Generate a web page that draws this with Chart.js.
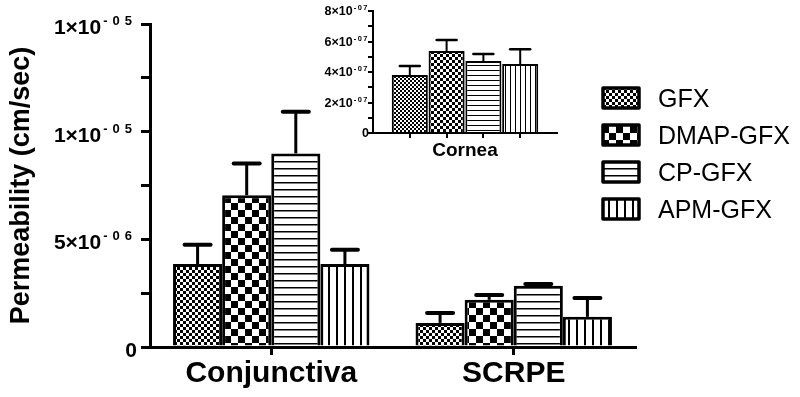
<!DOCTYPE html>
<html>
<head>
<meta charset="utf-8">
<script src="https://cdn.jsdelivr.net/npm/chart.js@4.4.1/dist/chart.umd.min.js"></script>
<style>
  html, body { margin: 0; padding: 0; background: #fff; }
  #wrap { position: relative; width: 800px; height: 397px; }
  #inset { position: absolute; left: 290px; top: 0; }
</style>
</head>
<body>
<div id="wrap">
  <canvas id="main" width="800" height="397"></canvas>
  <canvas id="inset" width="280" height="165"></canvas>
</div>
<script>
// data
const groups = ['Conjunctiva', 'SCRPE'];
const series = ['GFX', 'DMAP-GFX', 'CP-GFX', 'APM-GFX'];
const gfx = [3.85e-6, 1.12e-6];
const dmap = [7.05e-6, 2.19e-6];
const cp = [8.99e-6, 2.84e-6];
const apm = [3.85e-6, 1.40e-6];
const gfxErr = [0.90e-6, 0.46e-6];
const dmapErr = [1.47e-6, 0.23e-6];
const cpErr = [1.93e-6, 0.09e-6];
const apmErr = [0.67e-6, 0.88e-6];

// inset (cornea)
const corneaMeans = [3.8e-7, 5.38e-7, 4.72e-7, 4.52e-7];
const corneaErr = [0.60e-7, 0.72e-7, 0.46e-7, 0.98e-7];

// axis ticks / labels
const yTicks = [0, 2.5e-6, 5e-6, 7.5e-6, 1e-5, 1.25e-5, 1.5e-5];
const yLabelValues = [0, 5e-6, 1e-5, 1.5e-5];
const yLabelBase = ['0', '5×10', '1×10', '1×10'];
const yLabelExp = ['', '-06', '-05', '-05'];
const insetTicks = [0, 1e-7, 2e-7, 3e-7, 4e-7, 5e-7, 6e-7, 7e-7, 8e-7];
const insetLabelValues = [0, 2e-7, 4e-7, 6e-7, 8e-7];
const insetLabelBase = ['0', '2×10', '4×10', '6×10', '8×10'];
const insetLabelExp = ['', '-07', '-07', '-07', '-07'];

const FONT = '"Liberation Sans", Arial, sans-serif';
Chart.defaults.color = '#000';
Chart.defaults.font.family = FONT;

function makePattern(kind, s, lw) {
  const c = document.createElement('canvas');
  const ctx = c.getContext('2d');
  if (kind === 'checker') {
    c.width = c.height = s * 2;
    ctx.fillStyle = '#fff'; ctx.fillRect(0, 0, s * 2, s * 2);
    ctx.fillStyle = '#000';
    ctx.fillRect(0, 0, s, s); ctx.fillRect(s, s, s, s);
  } else if (kind === 'hlines') {
    c.width = 4; c.height = s;
    ctx.fillStyle = '#fff'; ctx.fillRect(0, 0, 4, s);
    ctx.fillStyle = '#000'; ctx.fillRect(0, 0, 4, lw);
  } else {
    c.width = s; c.height = 4;
    ctx.fillStyle = '#fff'; ctx.fillRect(0, 0, s, 4);
    ctx.fillStyle = '#000'; ctx.fillRect(0, 0, lw, 4);
  }
  return ctx.createPattern(c, 'repeat');
}

const mainPatterns = [
  makePattern('checker', 3),
  makePattern('checker', 7),
  makePattern('hlines', 7, 1.5),
  makePattern('vlines', 8, 2)
];
const insetPatterns = [
  makePattern('checker', 2),
  makePattern('checker', 3),
  makePattern('hlines', 5, 1),
  makePattern('vlines', 5, 1)
];

// superscript style labels like 5x10^-06
function drawSci(ctx, right, y, base, exp, f) {
  ctx.save();
  ctx.fillStyle = '#000';
  ctx.textBaseline = 'alphabetic';
  ctx.font = f.expFont;
  const chars = exp.split('');
  let expW = chars.length ? f.lead : 0;
  chars.forEach(ch => { expW += ctx.measureText(ch).width + f.gap; });
  ctx.font = f.baseFont;
  ctx.textAlign = 'right';
  ctx.fillText(base, right - expW, y + f.baseDy);
  ctx.textAlign = 'left';
  ctx.font = f.expFont;
  let x = right - expW + f.lead;
  chars.forEach(ch => {
    ctx.fillText(ch, x, y + f.expDy);
    x += ctx.measureText(ch).width + f.gap;
  });
  ctx.restore();
}

const errorBars = {
  id: 'errorBars',
  afterDatasetsDraw(chart, args, opts) {
    const ctx = chart.ctx;
    const y = chart.scales.y;
    chart.data.datasets.forEach((ds, i) => {
      chart.getDatasetMeta(i).data.forEach((bar, j) => {
        const d = ds.data[j];
        const v = typeof d === 'object' ? d.y : d;
        const top = y.getPixelForValue(v + ds.errors[j]);
        ctx.save();
        ctx.strokeStyle = '#000';
        ctx.lineWidth = opts.width;
        ctx.beginPath();
        ctx.moveTo(bar.x, bar.y);
        ctx.lineTo(bar.x, top);
        ctx.stroke();
        ctx.lineWidth = opts.capWidth;
        ctx.lineCap = 'round';
        ctx.beginPath();
        ctx.moveTo(bar.x - opts.cap / 2, top);
        ctx.lineTo(bar.x + opts.cap / 2, top);
        ctx.stroke();
        ctx.restore();
      });
    });
  }
};

const sciLabels = {
  id: 'sciLabels',
  afterDraw(chart, args, opts) {
    const y = chart.scales.y;
    opts.values.forEach((v, i) => {
      drawSci(chart.ctx, opts.right, y.getPixelForValue(v), opts.base[i], opts.exp[i], opts);
    });
  }
};

const boxLegend = {
  id: 'boxLegend',
  afterDraw(chart) {
    const ctx = chart.ctx;
    chart.data.datasets.forEach((ds, i) => {
      const cy = 98 + i * 37;
      ctx.save();
      ctx.fillStyle = ds.backgroundColor;
      ctx.fillRect(602, cy - 11, 38, 22);
      ctx.strokeStyle = '#000';
      ctx.lineWidth = 3.5;
      ctx.lineJoin = 'round';
      ctx.strokeRect(603, cy - 10, 36, 20);
      ctx.fillStyle = '#000';
      ctx.font = '25px ' + FONT;
      ctx.textBaseline = 'alphabetic';
      ctx.fillText(ds.label, 658, cy + 9);
      ctx.restore();
    });
  }
};

const mainValues = [gfx, dmap, cp, apm];
const mainErrors = [gfxErr, dmapErr, cpErr, apmErr];

new Chart(document.getElementById('main'), {
  type: 'bar',
  data: {
    labels: groups,
    datasets: series.map((name, i) => ({
      label: name,
      data: mainValues[i],
      errors: mainErrors[i],
      backgroundColor: mainPatterns[i],
      borderColor: '#000',
      borderWidth: 3,
      categoryPercentage: 0.81,
      barPercentage: 1
    }))
  },
  options: {
    responsive: false,
    animation: false,
    layout: { padding: { top: 24, right: 165, left: 0, bottom: 0 } },
    plugins: {
      legend: { display: false },
      tooltip: { enabled: false },
      errorBars: { width: 3, capWidth: 4, cap: 26 },
      sciLabels: {
        values: yLabelValues, base: yLabelBase, exp: yLabelExp, right: 137,
        baseFont: 'bold 21px ' + FONT, expFont: 'bold 13px ' + FONT,
        gap: 5, lead: 2, baseDy: 10, expDy: 1
      }
    },
    scales: {
      x: {
        offset: true,
        grid: { offset: false, drawOnChartArea: false, drawTicks: true, tickLength: 8, color: '#000', lineWidth: 3 },
        border: { color: '#000', width: 3 },
        ticks: { font: { size: 30, weight: 'bold' }, padding: 1 },
        afterFit: s => { s.height = 50; }
      },
      y: {
        min: 0,
        max: 1.5e-5,
        afterBuildTicks: s => { s.ticks = yTicks.map(v => ({ value: v })); },
        ticks: { display: false },
        grid: { drawOnChartArea: false, drawTicks: true, tickLength: 9, color: '#000', lineWidth: 3 },
        border: { color: '#000', width: 3 },
        title: {
          display: true, text: 'Permeability (cm/sec)',
          font: { size: 27, weight: 'bold' }, padding: { top: 5, bottom: 0 }
        },
        afterFit: s => { s.width = 150; }
      }
    }
  },
  plugins: [errorBars, sciLabels, boxLegend]
});

new Chart(document.getElementById('inset'), {
  type: 'bar',
  data: {
    datasets: [{
      label: 'Cornea',
      data: corneaMeans.map((v, i) => ({ x: i + 1, y: v })),
      errors: corneaErr,
      backgroundColor: insetPatterns,
      borderColor: '#000',
      borderWidth: 2,
      categoryPercentage: 0.98,
      barPercentage: 1
    }]
  },
  options: {
    responsive: false,
    animation: false,
    layout: { padding: { top: 11, right: 13, left: 0, bottom: 0 } },
    plugins: {
      legend: { display: false },
      tooltip: { enabled: false },
      errorBars: { width: 2, capWidth: 2.5, cap: 20 },
      sciLabels: {
        values: insetLabelValues, base: insetLabelBase, exp: insetLabelExp, right: 79,
        baseFont: 'bold 12.5px ' + FONT, expFont: 'bold 7.5px ' + FONT,
        gap: 1.5, lead: 1, baseDy: 4, expDy: -1
      }
    },
    scales: {
      x: {
        type: 'linear',
        min: 0,
        max: corneaMeans.length + 1,
        offset: false,
        afterBuildTicks: s => { s.ticks = corneaMeans.map((v, i) => ({ value: i + 1 })); },
        ticks: { display: false },
        grid: { offset: false, drawOnChartArea: false, drawTicks: true, tickLength: 5, color: '#000', lineWidth: 2 },
        border: { color: '#000', width: 2 },
        title: {
          display: true, text: 'Cornea',
          font: { size: 19, weight: 'bold' }, padding: { top: 0, bottom: 3 }
        },
        afterFit: s => { s.height = 32; }
      },
      y: {
        min: 0,
        max: 8e-7,
        afterBuildTicks: s => { s.ticks = insetTicks.map(v => ({ value: v })); },
        ticks: { display: false },
        grid: { drawOnChartArea: false, drawTicks: true, tickLength: 5, color: '#000', lineWidth: 2 },
        border: { color: '#000', width: 2 },
        afterFit: s => { s.width = 83; }
      }
    }
  },
  plugins: [errorBars, sciLabels]
});
</script>
</body>
</html>
